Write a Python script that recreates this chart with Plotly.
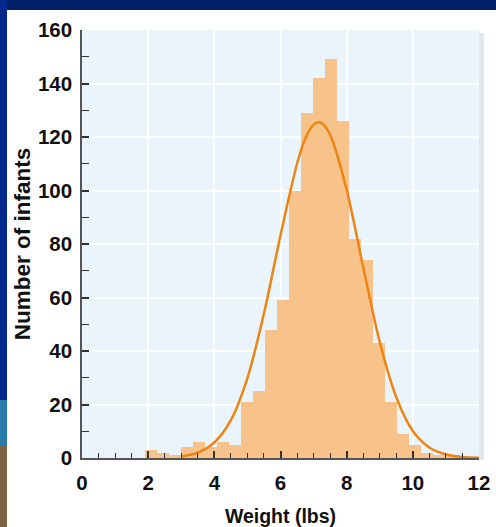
import numpy as np
import plotly.graph_objects as go

# ---- data ----
bin_edges_lbs = [1.90, 2.26, 2.63, 2.99, 3.35, 3.72, 4.08, 4.44, 4.80, 5.17, 5.53,
                 5.89, 6.26, 6.62, 6.98, 7.35, 7.71, 8.07, 8.43, 8.80, 9.16, 9.52,
                 9.89, 10.25, 10.61, 10.98, 11.34]
infant_counts = [3, 2, 1, 4, 6, 4, 6, 5, 21, 25, 48, 59, 100, 129, 142, 149,
                 126, 82, 74, 43, 21, 9, 5, 2, 1, 1]

curve_weight = [3.0, 3.5, 4.0, 4.5, 5.0, 5.5, 6.0, 6.5, 6.75, 7.0, 7.15, 7.25, 7.5,
                8.0, 8.5, 9.0, 9.5, 10.0, 10.5, 11.0, 11.5, 12.0]
curve_count = [0.5, 2.0, 5.8, 14.2, 29.9, 54.0, 83.3, 110.0, 119.4, 124.6, 125.5,
               125.1, 120.8, 100.3, 71.3, 43.4, 22.7, 10.1, 3.9, 1.3, 0.4, 0.1]

x_ticks = [0, 2, 4, 6, 8, 10, 12]
y_ticks = [0, 20, 40, 60, 80, 100, 120, 140, 160]

edges = np.array(bin_edges_lbs)
centers = (edges[:-1] + edges[1:]) / 2
widths = np.diff(edges)

fig = go.Figure()
fig.add_trace(go.Bar(x=centers, y=infant_counts, width=widths,
                     marker=dict(color="#F8C38A", line=dict(width=0)),
                     showlegend=False, hoverinfo="skip"))
fig.add_trace(go.Scatter(x=curve_weight, y=curve_count, mode="lines",
                         line=dict(color="#EE8412", width=2.5, shape="spline", smoothing=0.8),
                         showlegend=False, hoverinfo="skip"))

L, R, T, B = 82, 17, 30, 69
W, H = 496, 527
pw, ph = W - L - R, H - T - B


def px(xp):
    return (xp - L) / pw


def py(yp):
    return (H - B - yp) / ph


shapes = [
    dict(type="rect", xref="paper", yref="paper", x0=px(-5), x1=px(W + 5), y0=py(10), y1=py(-5),
         fillcolor="#001F66", line=dict(width=0), layer="below"),
    dict(type="rect", xref="paper", yref="paper", x0=px(-5), x1=px(7), y0=py(400), y1=py(-5),
         fillcolor="#04298C", line=dict(width=0), layer="below"),
    dict(type="rect", xref="paper", yref="paper", x0=px(-5), x1=px(7), y0=py(445), y1=py(400),
         fillcolor="#2A7DAA", line=dict(width=0), layer="below"),
    dict(type="rect", xref="paper", yref="paper", x0=px(-5), x1=px(7), y0=py(H + 5), y1=py(445),
         fillcolor="#7A6446", line=dict(width=0), layer="below"),
    dict(type="rect", xref="paper", yref="paper", x0=px(479), x1=px(484), y0=py(460), y1=py(33),
         fillcolor="#E4E7EB", line=dict(width=0), layer="below"),
]

tick_font = dict(size=20.5, family="Liberation Sans, Arial", weight="bold", color="#111111")

fig.update_layout(
    width=W, height=H,
    margin=dict(l=L, r=R, t=T, b=B, autoexpand=False),
    paper_bgcolor="white",
    plot_bgcolor="#EAF4FC",
    bargap=0,
    shapes=shapes,
    font=dict(family="Liberation Sans, Arial, sans-serif", color="#111111"),
    xaxis=dict(
        range=[0, 12], tickvals=x_ticks, ticktext=[str(v) for v in x_ticks],
        automargin=False,
        showgrid=True, gridcolor="white", gridwidth=2,
        ticks="inside", ticklen=7, tickwidth=1.5, tickcolor="#333333",
        minor=dict(dtick=0.5, ticks="inside", ticklen=5, tickwidth=1.3, tickcolor="#333333", showgrid=False),
        showline=True, linecolor="#555555", linewidth=1.5,
        zeroline=False,
        tickfont=tick_font,
        ticklabelstandoff=6,
        title=dict(text="<b>Weight (lbs)</b>", font=dict(size=19.5), standoff=18),
    ),
    yaxis=dict(
        range=[0, 160], tickvals=y_ticks, ticktext=[str(v) for v in y_ticks],
        automargin=False,
        showgrid=True, gridcolor="white", gridwidth=2,
        ticks="inside", ticklen=7, tickwidth=1.5, tickcolor="#333333",
        minor=dict(dtick=10, ticks="inside", ticklen=7, tickwidth=1.3, tickcolor="#333333", showgrid=False),
        showline=True, linecolor="#555555", linewidth=1.5,
        zeroline=False,
        tickfont=tick_font,
        ticklabelstandoff=4,
        title=dict(text="<b>Number of infants</b>", font=dict(size=22.5), standoff=1),
    ),
)

fig.write_html("out.html")
